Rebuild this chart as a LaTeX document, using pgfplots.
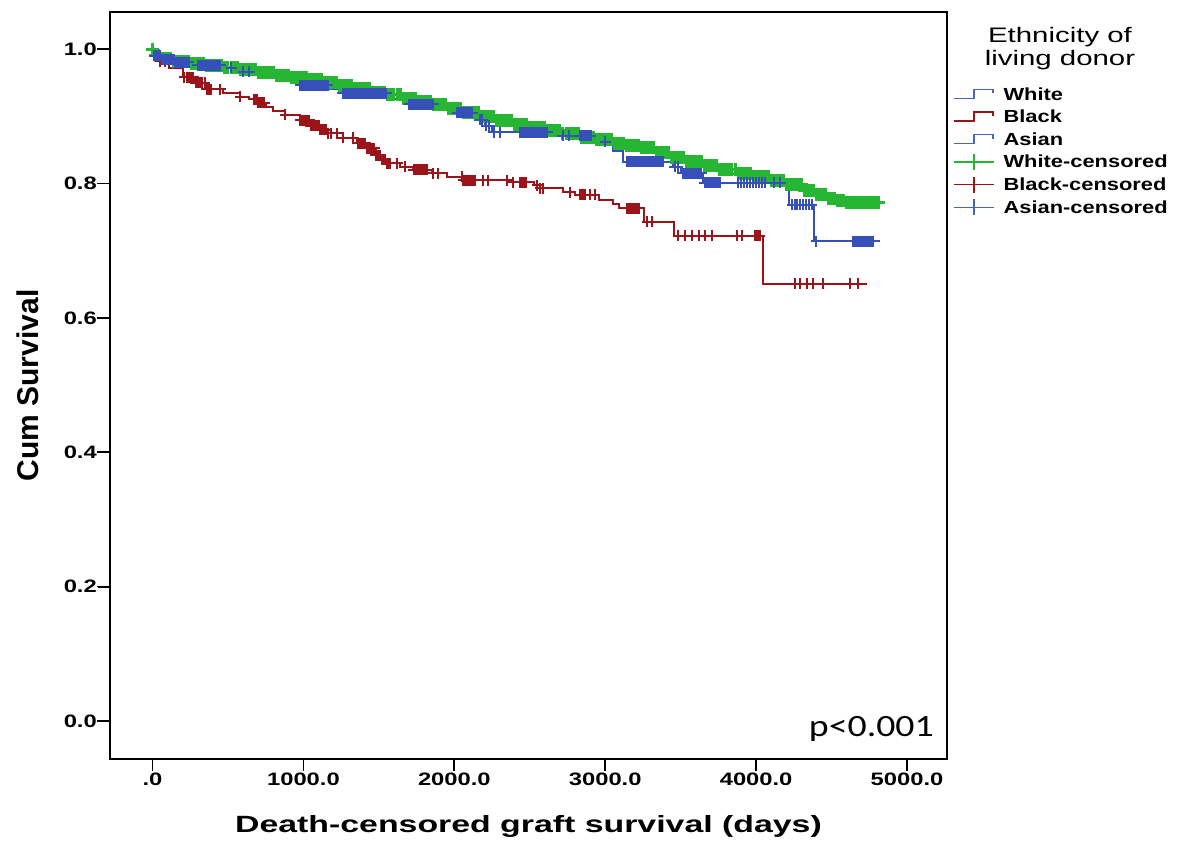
\documentclass[border=0pt]{standalone}
\usepackage{fontspec}
\setmainfont{Liberation Sans}
% SPSS-like wide lettering, stretched by the font itself
\newfontfamily\tickfam[FakeStretch=1.32]{Liberation Sans}
\newfontfamily\labelfam[FakeStretch=1.44]{Liberation Sans}
\newfontfamily\legfam[FakeStretch=1.25]{Liberation Sans}
\newfontfamily\titlefam[FakeStretch=1.4]{Liberation Sans}
\newfontfamily\pfam[FakeStretch=1.22]{Carlito}
\usepackage{pgfplots}
\usepackage{pgfplotstable}
\pgfplotsset{compat=1.18}

\definecolor{kmgreen}{RGB}{38,182,52}
\definecolor{kmblue}{RGB}{55,80,185}
\definecolor{kmred}{RGB}{155,20,25}
\definecolor{legblue}{RGB}{70,100,190}

\pgfplotsset{
  step legend/.style={line width=1.6pt,
    legend image code/.code={\draw[##1] (0pt,-3pt) -- (20pt,-3pt) -- (20pt,6pt) -- (39pt,6pt) -- (39pt,2pt);}},
  cens legend/.style={line width=1.5pt, mark=+, mark size=8pt,
    legend image code/.code={\draw[mark repeat=2, mark phase=2, ##1] plot coordinates {(0pt,1pt) (20pt,1pt) (40pt,1pt)};}},
  cens/.style={forget plot, only marks, mark=+, mark size=5.5pt, mark options={line width=2pt}},
}

% Kaplan-Meier steps (days, cum survival)
\pgfplotstableread[row sep=\\]{
x y\\ 0 1.000\\ 5 0.990\\ 50 0.986\\ 136 0.981\\ 250 0.978\\ 360 0.975\\ 470 0.972\\ 580 0.969\\
700 0.965\\ 810 0.961\\ 920 0.957\\ 1024 0.954\\ 1130 0.950\\ 1240 0.945\\ 1340 0.941\\ 1450 0.936\\
1554 0.932\\ 1650 0.927\\ 1750 0.922\\ 1850 0.917\\ 1952 0.912\\ 2060 0.905\\ 2170 0.899\\ 2280 0.893\\
2389 0.887\\ 2500 0.883\\ 2614 0.879\\ 2720 0.874\\ 2833 0.869\\ 2940 0.865\\ 3052 0.860\\ 3140 0.857\\
3231 0.853\\ 3330 0.846\\ 3429 0.838\\ 3540 0.832\\ 3650 0.826\\ 3760 0.820\\ 3870 0.815\\ 3980 0.810\\
4091 0.805\\ 4200 0.798\\ 4310 0.790\\ 4390 0.784\\ 4470 0.778\\ 4540 0.774\\ 4600 0.771\\ 4820 0.771\\
}\whitekm

\pgfplotstableread[row sep=\\]{
x y\\ 0 1.000\\ 3 0.990\\ 40 0.982\\ 110 0.972\\ 200 0.958\\ 280 0.950\\ 360 0.940\\ 470 0.934\\
580 0.929\\ 640 0.925\\ 692 0.920\\ 750 0.914\\ 800 0.908\\ 880 0.902\\ 977 0.894\\ 1050 0.886\\
1110 0.880\\ 1157 0.875\\ 1260 0.868\\ 1356 0.860\\ 1420 0.852\\ 1480 0.842\\ 1520 0.835\\ 1554 0.830\\
1640 0.825\\ 1725 0.820\\ 1850 0.815\\ 1952 0.810\\ 2058 0.805\\ 2389 0.802\\ 2530 0.797\\ 2568 0.793\\
2720 0.787\\ 2800 0.783\\ 2960 0.776\\ 3050 0.770\\ 3090 0.763\\ 3260 0.743\\ 3455 0.722\\ 4045 0.651\\
4735 0.651\\
}\blackkm

\pgfplotstableread[row sep=\\]{
x y\\ 0 1.000\\ 5 0.990\\ 60 0.985\\ 150 0.980\\ 250 0.976\\ 460 0.972\\ 560 0.966\\ 700 0.960\\
820 0.953\\ 950 0.946\\ 1170 0.940\\ 1240 0.934\\ 1560 0.926\\ 1660 0.918\\ 1870 0.912\\ 2000 0.905\\
2140 0.895\\ 2200 0.886\\ 2250 0.876\\ 2700 0.871\\ 2950 0.862\\ 3050 0.848\\ 3120 0.832\\ 3450 0.825\\
3500 0.815\\ 3650 0.801\\ 4220 0.768\\ 4385 0.714\\ 4820 0.714\\
}\asiankm

% censored cases
\pgfplotstableread[row sep=\\]{
x y\\ 0 1.000\\ 20 0.990\\ 40 0.990\\
60 0.986\\ 80 0.986\\ 100 0.986\\ 120 0.986\\
140 0.981\\ 160 0.981\\ 180 0.981\\ 200 0.981\\ 220 0.981\\ 240 0.981\\
260 0.978\\ 280 0.978\\ 300 0.978\\ 320 0.978\\ 340 0.978\\
360 0.975\\ 380 0.975\\ 400 0.975\\ 420 0.975\\ 440 0.975\\ 460 0.975\\
480 0.972\\ 500 0.972\\ 520 0.972\\ 540 0.972\\ 560 0.972\\
580 0.969\\ 600 0.969\\ 620 0.969\\ 640 0.969\\ 660 0.969\\ 680 0.969\\
700 0.965\\ 720 0.965\\ 740 0.965\\ 760 0.965\\ 780 0.965\\ 800 0.965\\
820 0.961\\ 840 0.961\\ 860 0.961\\ 880 0.961\\ 900 0.961\\
920 0.957\\ 940 0.957\\ 960 0.957\\ 980 0.957\\ 1000 0.957\\ 1020 0.957\\
1040 0.954\\ 1060 0.954\\ 1080 0.954\\ 1100 0.954\\ 1120 0.954\\
1140 0.950\\ 1160 0.950\\ 1180 0.950\\ 1200 0.950\\ 1220 0.950\\
1240 0.945\\ 1260 0.945\\ 1280 0.945\\ 1300 0.945\\ 1320 0.945\\
1340 0.941\\ 1360 0.941\\ 1380 0.941\\ 1400 0.941\\ 1420 0.941\\ 1440 0.941\\
1460 0.936\\ 1480 0.936\\ 1500 0.936\\ 1520 0.936\\ 1540 0.936\\
1560 0.932\\ 1580 0.932\\ 1600 0.932\\ 1620 0.932\\ 1640 0.932\\
1660 0.927\\ 1680 0.927\\ 1700 0.927\\ 1720 0.927\\ 1740 0.927\\
1760 0.922\\ 1780 0.922\\ 1800 0.922\\ 1820 0.922\\ 1840 0.922\\
1860 0.917\\ 1880 0.917\\ 1900 0.917\\ 1920 0.917\\ 1940 0.917\\
1960 0.912\\ 1980 0.912\\ 2000 0.912\\ 2020 0.912\\ 2040 0.912\\
2060 0.905\\ 2080 0.905\\ 2100 0.905\\ 2120 0.905\\ 2140 0.905\\ 2160 0.905\\
2180 0.899\\ 2200 0.899\\ 2220 0.899\\ 2240 0.899\\ 2260 0.899\\
2280 0.893\\ 2300 0.893\\ 2320 0.893\\ 2340 0.893\\ 2360 0.893\\ 2380 0.893\\
2400 0.887\\ 2420 0.887\\ 2440 0.887\\ 2460 0.887\\ 2480 0.887\\
2500 0.883\\ 2520 0.883\\ 2540 0.883\\ 2560 0.883\\ 2580 0.883\\ 2600 0.883\\
2620 0.879\\ 2640 0.879\\ 2660 0.879\\ 2680 0.879\\ 2700 0.879\\
2720 0.874\\ 2740 0.874\\ 2760 0.874\\ 2780 0.874\\ 2800 0.874\\ 2820 0.874\\
2840 0.869\\ 2860 0.869\\ 2880 0.869\\ 2900 0.869\\ 2920 0.869\\
2940 0.865\\ 2960 0.865\\ 2980 0.865\\ 3000 0.865\\ 3020 0.865\\ 3040 0.865\\
3060 0.860\\ 3080 0.860\\ 3100 0.860\\ 3120 0.860\\
3140 0.857\\ 3160 0.857\\ 3180 0.857\\ 3200 0.857\\ 3220 0.857\\
3240 0.853\\ 3260 0.853\\ 3280 0.853\\ 3300 0.853\\ 3320 0.853\\
3340 0.846\\ 3360 0.846\\ 3380 0.846\\ 3400 0.846\\ 3420 0.846\\
3440 0.838\\ 3460 0.838\\ 3480 0.838\\ 3500 0.838\\ 3520 0.838\\
3540 0.832\\ 3560 0.832\\ 3580 0.832\\ 3600 0.832\\ 3620 0.832\\ 3640 0.832\\
3660 0.826\\ 3680 0.826\\ 3700 0.826\\ 3720 0.826\\ 3740 0.826\\
3760 0.820\\ 3780 0.820\\ 3800 0.820\\ 3820 0.820\\ 3840 0.820\\ 3860 0.820\\
3880 0.815\\ 3900 0.815\\ 3920 0.815\\ 3940 0.815\\ 3960 0.815\\
3980 0.810\\ 4000 0.810\\ 4020 0.810\\ 4040 0.810\\ 4060 0.810\\ 4080 0.810\\
4100 0.805\\ 4120 0.805\\ 4140 0.805\\ 4160 0.805\\ 4180 0.805\\
4200 0.798\\ 4220 0.798\\ 4240 0.798\\ 4260 0.798\\ 4280 0.798\\ 4300 0.798\\
4320 0.790\\ 4340 0.790\\ 4360 0.790\\ 4380 0.790\\
4400 0.784\\ 4420 0.784\\ 4440 0.784\\ 4460 0.784\\
4480 0.778\\ 4500 0.778\\ 4520 0.778\\
4540 0.774\\ 4560 0.774\\ 4580 0.774\\
4600 0.771\\ 4610 0.771\\ 4620 0.771\\ 4630 0.771\\ 4640 0.771\\ 4650 0.771\\ 4660 0.771\\ 4670 0.771\\
4680 0.771\\ 4690 0.771\\ 4700 0.771\\ 4710 0.771\\ 4720 0.771\\ 4730 0.771\\ 4740 0.771\\ 4750 0.771\\
4760 0.771\\ 4770 0.771\\ 4780 0.771\\ 4790 0.771\\ 4800 0.771\\ 4810 0.771\\
}\whitecens

\pgfplotstableread[row sep=\\]{
x y\\ 50 0.982\\ 80 0.982\\ 210 0.958\\ 225 0.958\\ 240 0.958\\ 255 0.958\\ 270 0.958\\
285 0.950\\ 300 0.950\\ 315 0.950\\ 330 0.950\\ 345 0.950\\ 360 0.940\\ 375 0.940\\ 390 0.940\\
447 0.940\\ 580 0.929\\ 670 0.925\\ 680 0.925\\ 690 0.925\\ 700 0.920\\ 710 0.920\\ 720 0.920\\
730 0.920\\ 740 0.920\\ 880 0.902\\
980 0.894\\ 990 0.894\\ 1000 0.894\\ 1010 0.894\\ 1020 0.894\\ 1030 0.894\\ 1040 0.894\\
1050 0.886\\ 1060 0.886\\ 1070 0.886\\ 1080 0.886\\ 1090 0.886\\ 1100 0.886\\
1110 0.880\\ 1120 0.880\\ 1130 0.880\\ 1140 0.880\\ 1150 0.880\\ 1160 0.875\\
1180 0.875\\ 1220 0.875\\ 1260 0.868\\ 1329 0.868\\
1360 0.860\\ 1370 0.860\\ 1380 0.860\\ 1390 0.860\\ 1400 0.860\\ 1410 0.860\\
1420 0.852\\ 1430 0.852\\ 1440 0.852\\ 1450 0.852\\ 1460 0.852\\ 1470 0.852\\
1480 0.842\\ 1490 0.842\\ 1500 0.842\\ 1510 0.842\\ 1520 0.835\\ 1530 0.835\\ 1540 0.835\\
1555 0.830\\ 1565 0.830\\ 1575 0.830\\ 1620 0.830\\ 1673 0.825\\
1730 0.820\\ 1740 0.820\\ 1750 0.820\\ 1760 0.820\\ 1770 0.820\\ 1780 0.820\\ 1790 0.820\\
1800 0.820\\ 1810 0.820\\ 1820 0.820\\ 1860 0.815\\ 1893 0.815\\
2050 0.810\\ 2060 0.805\\ 2070 0.805\\ 2080 0.805\\ 2090 0.805\\ 2100 0.805\\ 2110 0.805\\
2120 0.805\\ 2130 0.805\\ 2140 0.805\\ 2190 0.805\\ 2223 0.805\\ 2346 0.805\\ 2389 0.802\\
2436 0.802\\ 2446 0.802\\ 2456 0.802\\ 2466 0.802\\ 2476 0.802\\ 2548 0.797\\ 2570 0.793\\ 2588 0.793\\
2767 0.787\\ 2833 0.783\\ 2843 0.783\\ 2853 0.783\\ 2866 0.783\\ 2899 0.783\\ 2932 0.783\\
3145 0.763\\ 3155 0.763\\ 3165 0.763\\ 3175 0.763\\ 3185 0.763\\ 3195 0.763\\ 3205 0.763\\
3215 0.763\\ 3225 0.763\\ 3277 0.743\\ 3310 0.743\\
3483 0.722\\ 3529 0.722\\ 3575 0.722\\ 3622 0.722\\ 3661 0.722\\ 3708 0.722\\ 3874 0.722\\ 3907 0.722\\
3993 0.722\\ 4003 0.722\\ 4013 0.722\\ 4023 0.722\\
4258 0.651\\ 4291 0.651\\ 4337 0.651\\ 4380 0.651\\ 4440 0.651\\ 4622 0.651\\ 4675 0.651\\
}\blackcens

\pgfplotstableread[row sep=\\]{
x y\\ 10 0.990\\ 20 0.990\\ 30 0.990\\ 40 0.990\\ 50 0.990\\
60 0.985\\ 70 0.985\\ 80 0.985\\ 90 0.985\\ 100 0.985\\ 110 0.985\\ 120 0.985\\ 130 0.985\\ 140 0.985\\
150 0.980\\ 160 0.980\\ 170 0.980\\ 180 0.980\\ 190 0.980\\ 200 0.980\\ 210 0.980\\ 220 0.980\\ 230 0.980\\ 240 0.980\\
300 0.976\\ 310 0.976\\ 320 0.976\\ 330 0.976\\ 340 0.976\\ 350 0.976\\ 360 0.976\\ 370 0.976\\
380 0.976\\ 390 0.976\\ 400 0.976\\ 410 0.976\\ 420 0.976\\ 430 0.976\\ 440 0.976\\ 450 0.976\\
520 0.972\\ 600 0.966\\ 640 0.966\\
980 0.946\\ 990 0.946\\ 1000 0.946\\ 1010 0.946\\ 1020 0.946\\ 1030 0.946\\ 1040 0.946\\ 1050 0.946\\
1060 0.946\\ 1070 0.946\\ 1080 0.946\\ 1090 0.946\\ 1100 0.946\\ 1110 0.946\\ 1120 0.946\\ 1130 0.946\\
1140 0.946\\ 1150 0.946\\ 1160 0.946\\
1260 0.934\\ 1270 0.934\\ 1280 0.934\\ 1290 0.934\\ 1300 0.934\\ 1310 0.934\\ 1320 0.934\\ 1330 0.934\\
1340 0.934\\ 1350 0.934\\ 1360 0.934\\ 1370 0.934\\ 1380 0.934\\ 1390 0.934\\ 1400 0.934\\ 1410 0.934\\
1420 0.934\\ 1430 0.934\\ 1440 0.934\\ 1450 0.934\\ 1460 0.934\\ 1470 0.934\\ 1480 0.934\\ 1490 0.934\\
1500 0.934\\ 1510 0.934\\ 1520 0.934\\ 1530 0.934\\ 1540 0.934\\ 1550 0.934\\
1700 0.918\\ 1710 0.918\\ 1720 0.918\\ 1730 0.918\\ 1740 0.918\\ 1750 0.918\\ 1760 0.918\\ 1770 0.918\\
1780 0.918\\ 1790 0.918\\ 1800 0.918\\ 1810 0.918\\ 1820 0.918\\ 1830 0.918\\ 1840 0.918\\ 1850 0.918\\ 1860 0.918\\
2020 0.905\\ 2030 0.905\\ 2040 0.905\\ 2050 0.905\\ 2060 0.905\\ 2070 0.905\\ 2080 0.905\\ 2090 0.905\\
2100 0.905\\ 2110 0.905\\ 2120 0.905\\ 2170 0.895\\ 2185 0.895\\ 2210 0.886\\ 2230 0.886\\
2260 0.876\\ 2300 0.876\\
2435 0.876\\ 2445 0.876\\ 2455 0.876\\ 2465 0.876\\ 2475 0.876\\ 2485 0.876\\ 2495 0.876\\ 2505 0.876\\
2515 0.876\\ 2525 0.876\\ 2535 0.876\\ 2545 0.876\\ 2555 0.876\\ 2565 0.876\\ 2575 0.876\\ 2585 0.876\\
2595 0.876\\ 2605 0.876\\ 2615 0.876\\
2720 0.871\\ 2760 0.871\\ 2835 0.871\\ 2845 0.871\\ 2855 0.871\\ 2865 0.871\\ 2875 0.871\\ 2885 0.871\\
2895 0.871\\ 2905 0.871\\ 3000 0.862\\
3145 0.832\\ 3155 0.832\\ 3165 0.832\\ 3175 0.832\\ 3185 0.832\\ 3195 0.832\\ 3205 0.832\\ 3215 0.832\\
3225 0.832\\ 3235 0.832\\ 3245 0.832\\ 3255 0.832\\ 3265 0.832\\ 3275 0.832\\ 3285 0.832\\ 3295 0.832\\
3305 0.832\\ 3315 0.832\\ 3325 0.832\\ 3335 0.832\\ 3345 0.832\\ 3355 0.832\\ 3365 0.832\\ 3375 0.832\\ 3385 0.832\\
3460 0.825\\ 3480 0.825\\
3515 0.815\\ 3525 0.815\\ 3535 0.815\\ 3545 0.815\\ 3555 0.815\\ 3565 0.815\\ 3575 0.815\\ 3585 0.815\\
3595 0.815\\ 3605 0.815\\ 3615 0.815\\ 3625 0.815\\ 3635 0.815\\
3660 0.801\\ 3670 0.801\\ 3680 0.801\\ 3690 0.801\\ 3700 0.801\\ 3710 0.801\\ 3720 0.801\\ 3730 0.801\\
3740 0.801\\ 3750 0.801\\ 3760 0.801\\
3880 0.801\\ 3900 0.801\\ 3920 0.801\\ 3940 0.801\\ 3960 0.801\\ 3980 0.801\\ 4000 0.801\\ 4020 0.801\\
4040 0.801\\ 4060 0.801\\ 4120 0.801\\ 4160 0.801\\
4240 0.768\\ 4255 0.768\\ 4270 0.768\\ 4290 0.768\\ 4310 0.768\\ 4330 0.768\\ 4350 0.768\\ 4370 0.768\\
4400 0.714\\
4645 0.714\\ 4655 0.714\\ 4665 0.714\\ 4675 0.714\\ 4685 0.714\\ 4695 0.714\\ 4705 0.714\\ 4715 0.714\\
4725 0.714\\ 4735 0.714\\ 4745 0.714\\ 4755 0.714\\ 4765 0.714\\ 4775 0.714\\
}\asiancens

\begin{document}
\begin{tikzpicture}
\begin{axis}[
    scale only axis,
    width=837pt, height=747pt,
    xmin=-282, xmax=5265,
    ymin=-0.0565, ymax=1.0551,
    clip=false,
    axis line style={line width=1.8pt},
    xtick style={black, line width=1.8pt},
    ytick style={black, line width=1.8pt},
    major tick length=12pt,
    tick align=outside,
    tick pos=left,
    xtick={0,1000,2000,3000,4000,5000},
    xticklabels={.0,1000.0,2000.0,3000.0,4000.0,5000.0},
    ytick={0,0.2,0.4,0.6,0.8,1.0},
    yticklabels={0.0,0.2,0.4,0.6,0.8,1.0},
    ticklabel style={font=\tickfam\bfseries\fontsize{18}{18}\selectfont},
    xticklabel style={inner sep=2pt},
    yticklabel style={inner sep=1pt},
    xlabel={Death-censored graft survival (days)},
    xlabel style={font=\labelfam\bfseries\fontsize{23.5}{24}\selectfont,
        at={(axis description cs:0.5,-0.099)}, anchor=base},
    ylabel={Cum Survival},
    ylabel style={font=\bfseries\fontsize{30}{30}\selectfont,
        at={(axis description cs:-0.086,0.5)}, anchor=base},
    legend style={at={(axis description cs:1.0072,0.9036)}, anchor=north west,
        draw=none, fill=none, inner sep=0pt, outer sep=0pt,
        row sep=0pt, column sep=9pt,
        font=\legfam\bfseries\fontsize{17.5}{20}\selectfont,
        nodes={inner sep=0pt, text height=16pt, text depth=6.6pt}},
    legend cell align=left,
]
% legend entries
\addlegendimage{legblue, step legend}
\addlegendentry{White}
\addlegendimage{kmred, step legend}
\addlegendentry{Black}
\addlegendimage{legblue, step legend}
\addlegendentry{Asian}
\addlegendimage{kmgreen, cens legend}
\addlegendentry{White-censored}
\addlegendimage{kmred, cens legend}
\addlegendentry{Black-censored}
\addlegendimage{legblue, cens legend}
\addlegendentry{Asian-censored}

% survival steps
\addplot[forget plot, const plot, kmgreen, line width=2pt] table {\whitekm};
\addplot[forget plot, const plot, kmred, line width=2pt] table {\blackkm};
\addplot[forget plot, const plot, kmblue, line width=2pt] table {\asiankm};
% censored marks
\addplot[cens, kmgreen, mark size=6.5pt, mark options={line width=3pt}] table {\whitecens};
\addplot[cens, kmred] table {\blackcens};
\addplot[cens, kmblue] table {\asiancens};

% legend title and test statistic
\node[anchor=base, font=\titlefam\fontsize{21}{21}\selectfont] at (axis description cs:1.135,0.9585) {Ethnicity of};
\node[anchor=base, font=\titlefam\fontsize{21}{21}\selectfont] at (axis description cs:1.135,0.929) {living donor};
\node[anchor=base east, inner sep=0pt, font=\pfam\fontsize{31}{31}\selectfont] at (axis description cs:0.9845,0.0295) {p<0.001};
\end{axis}
% tick marks on the outside of the frame (frame is 837pt x 747pt)
\foreach \t in {0,1000,2000,3000,4000,5000}
  \fill[black] ({(\t+282)/5547*837pt-0.9pt},0.9pt) rectangle ++(1.8pt,-12.9pt);
\foreach \v in {0,0.2,0.4,0.6,0.8,1.0}
  \fill[black] (-0.9pt,{(\v+0.0565)/1.1116*747pt-0.9pt}) rectangle ++(-12pt,1.8pt);
% fixed page frame, same size as the reference
\path (-110pt,-83pt) rectangle (1076pt,759pt);
\end{tikzpicture}
\end{document}
